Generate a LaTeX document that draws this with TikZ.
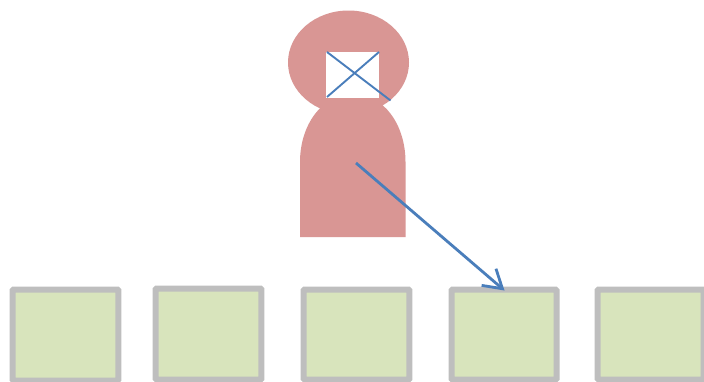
\documentclass[tikz,border=0pt]{standalone}
\usetikzlibrary{arrows.meta}
\definecolor{figfill}{RGB}{217,150,148}
\definecolor{linkblue}{RGB}{74,126,187}
\definecolor{boxfill}{RGB}{216,228,188}
\definecolor{boxedge}{RGB}{190,190,190}
\tikzset{
  x=1pt,y=-1pt,
  figpart/.style={fill=figfill,draw=none},
  cardbox/.style={draw=boxedge,line width=6pt,fill=boxfill,rounded corners=1pt},
  crossline/.style={draw=linkblue,line width=1.9pt},
  pointer/.style={draw=linkblue,line width=2.8pt,-{Straight Barb[length=18pt,width=22pt,line width=2.8pt]}},
}
\begin{document}
\begin{tikzpicture}
\useasboundingbox (0,0) rectangle (704,381);
\fill[white] (0,0) rectangle (704,381);
% figure
\fill[figpart] (348.5,62.5) ellipse [x radius=60.5,y radius=52];
\fill[figpart] (300,237) -- (300,162) .. controls (300,125) and (322,94) .. (353,94) .. controls (384,94) and (405.5,125) .. (405.5,162) -- (405.5,237) -- cycle;
\node[fill=white,inner sep=0pt,minimum width=53pt,minimum height=46pt,anchor=north west] (window) at (326,52) {};
\coordinate (crossa) at (327,52);
\coordinate (crossb) at (390.5,100.5);
\coordinate (crossc) at (327,97);
\coordinate (crossd) at (379,52);
\draw[crossline] (crossa) -- (crossb);
\draw[crossline] (crossc) -- (crossd);
% boxes
\draw[cardbox] (12.6,289.6) rectangle (118.4,380.5);
\draw[cardbox] (155.6,288.6) rectangle (261.4,379.6);
\draw[cardbox] (303.6,289.6) rectangle (409.4,379.6);
\draw[cardbox] (451.5,289.6) rectangle (556.5,379.6);
\draw[cardbox] (597.6,289.5) rectangle (703.5,379.5);
\coordinate (cardfour) at (504.5,290.5);
\coordinate (start) at (356,163);
\draw[pointer] (start) -- (cardfour);
\end{tikzpicture}
\end{document}
